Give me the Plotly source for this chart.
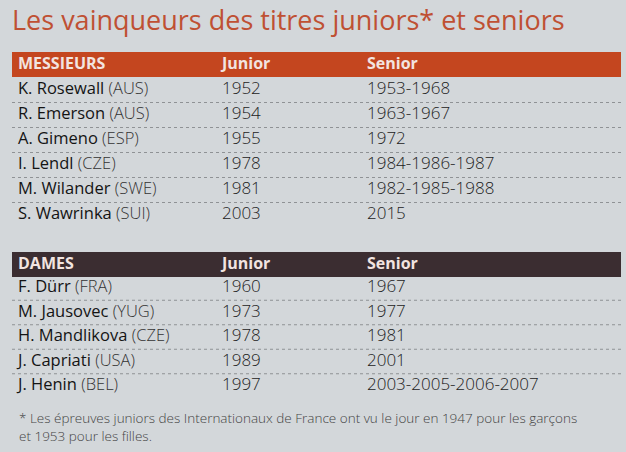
import plotly.graph_objects as go

# Vainqueurs juniors et seniors - Roland-Garros
titre = "Les vainqueurs des titres juniors* et seniors"
colonnes = ["Junior", "Senior"]

messieurs_noms = ["K. Rosewall", "R. Emerson", "A. Gimeno", "I. Lendl", "M. Wilander", "S. Wawrinka"]
messieurs_pays = ["AUS", "AUS", "ESP", "CZE", "SWE", "SUI"]
messieurs_junior = ["1952", "1954", "1955", "1978", "1981", "2003"]
messieurs_senior = ["1953-1968", "1963-1967", "1972", "1984-1986-1987", "1982-1985-1988", "2015"]

dames_noms = ["F. Dürr", "M. Jausovec", "H. Mandlikova", "J. Capriati", "J. Henin"]
dames_pays = ["FRA", "YUG", "CZE", "USA", "BEL"]
dames_junior = ["1960", "1973", "1978", "1989", "1997"]
dames_senior = ["1967", "1977", "1981", "2001", "2003-2005-2006-2007"]

note = ["* Les épreuves juniors des Internationaux de France ont vu le jour en 1947 pour les garçons",
        "et 1953 pour les filles."]

W, H = 626, 452
FONT = "Open Sans"
X_NOM, X_JUN, X_SEN = 18, 222, 367
LEFT, RIGHT = 12, 621

fig = go.Figure()
shapes = []


def bloc(label, couleur, top, y0, pas, noms, pays, junior, senior):
    # bandeau d'en-tete
    shapes.append(dict(type="rect", x0=LEFT, x1=RIGHT, y0=top, y1=top + 25,
                       fillcolor=couleur, line_width=0, layer="below"))
    yh = top + 13
    fig.add_trace(go.Scatter(
        x=[X_NOM, X_JUN, X_SEN], y=[yh] * 3, mode="text",
        text=[label] + colonnes, textposition="middle right",
        textfont=dict(family=FONT, size=16, color="#f2e4e0", weight=700),
        hoverinfo="skip", showlegend=False))

    ys = [y0 + i * pas for i in range(len(noms))]
    txt = [f"<span style='font-weight:500'>{n}</span> "
           f"<span style='font-weight:300;color:#333'>({p})</span>"
           for n, p in zip(noms, pays)]
    fig.add_trace(go.Scatter(
        x=[X_NOM] * len(noms), y=ys, mode="text", text=txt,
        textposition="middle right",
        textfont=dict(family=FONT, size=16.5, color="#141414"),
        hoverinfo="skip", showlegend=False))
    for xc, col in ((X_JUN, junior), (X_SEN, senior)):
        fig.add_trace(go.Scatter(
            x=[xc] * len(col), y=ys, mode="text", text=col,
            textposition="middle right",
            textfont=dict(family=FONT, size=17, color="#222", weight=300),
            hoverinfo="skip", showlegend=False))
    # lignes pointillees entre les rangees
    for y in ys[:-1]:
        shapes.append(dict(type="line", x0=LEFT, x1=RIGHT, y0=y + pas / 2, y1=y + pas / 2,
                           line=dict(color="#8f9295", width=1, dash="dot"), layer="below"))


bloc("MESSIEURS", "#c4461f", 52, 90, 25, messieurs_noms, messieurs_pays, messieurs_junior, messieurs_senior)
bloc("DAMES", "#3b2d31", 252, 288, 24.5, dames_noms, dames_pays, dames_junior, dames_senior)

fig.add_annotation(x=10, y=19, xref="x", yref="y", text=titre, showarrow=False,
                   xanchor="left", yanchor="middle",
                   font=dict(family=FONT, size=27, color="#bf5033"))
fig.add_annotation(x=18, y=427, xref="x", yref="y", text="<br>".join(note), showarrow=False,
                   xanchor="left", yanchor="middle", align="left", borderpad=0,
                   font=dict(family=FONT, size=13.5, color="#444", weight=300))

fig.update_layout(
    width=W, height=H, margin=dict(l=0, r=0, t=0, b=0),
    paper_bgcolor="#d3d7da", plot_bgcolor="#d3d7da",
    shapes=shapes,
    xaxis=dict(range=[0, W], visible=False, fixedrange=True),
    yaxis=dict(range=[H, 0], visible=False, fixedrange=True),
)

fig.write_html("out.html", config={"displayModeBar": False},
               post_script="document.body.style.margin='0';document.body.style.background='#d3d7da';")
